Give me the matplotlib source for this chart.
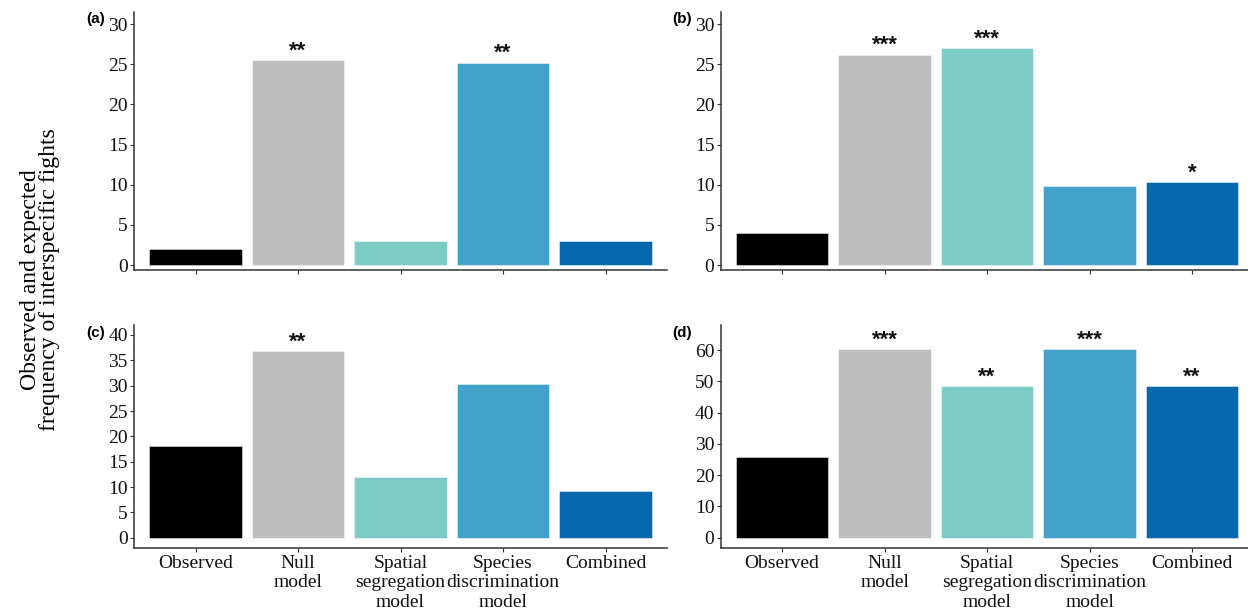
import matplotlib
matplotlib.use("Agg")
import matplotlib.pyplot as plt

# Bar categories (x-axis labels) and fill colours
categories = ["Observed", "Null\nmodel", "Spatial\nsegregation\nmodel",
              "Species\ndiscrimination\nmodel", "Combined"]
colors = ["#000000", "#BEBEBE", "#7BCCC4", "#43A2CA", "#0868AC"]

# Observed and expected frequencies for each panel
values_a = [2.0, 25.5, 3.0, 25.2, 3.0]
values_b = [4.0, 26.2, 27.0, 9.85, 10.3]
values_c = [18.0, 36.8, 12.0, 30.3, 9.2]
values_d = [25.8, 60.2, 48.5, 60.2, 48.5]

# Significance labels above the bars
stars_a = ["", "**", "", "**", ""]
stars_b = ["", "***", "***", "", "*"]
stars_c = ["", "**", "", "", ""]
stars_d = ["", "***", "**", "***", "**"]

# Y-axis ticks per panel
ticks_a = [0, 5, 10, 15, 20, 25, 30]
ticks_b = [0, 5, 10, 15, 20, 25, 30]
ticks_c = [0, 5, 10, 15, 20, 25, 30, 35, 40]
ticks_d = [0, 10, 20, 30, 40, 50, 60]

W, H = 1248, 613
fig = plt.figure(figsize=(W / 100, H / 100), dpi=100)

serif = "Liberation Serif"
sans = "Liberation Sans"
axis_col = "#333333"


def px_axes(left, right, top, bottom):
    return fig.add_axes([left / W, 1 - bottom / H, (right - left) / W, (bottom - top) / H])


panels = [
    # label, values, stars, ticks, ylim, (left, right, top, bottom), show x labels
    ("(a)", values_a, stars_a, ticks_a, (-0.62, 31.5), (134, 667, 12, 270), False),
    ("(b)", values_b, stars_b, ticks_b, (-0.62, 31.5), (720.6, 1253.6, 12, 270), False),
    ("(c)", values_c, stars_c, ticks_c, (-2.03, 41.97), (134, 667, 325, 548), True),
    ("(d)", values_d, stars_d, ticks_d, (-3.3, 68.0), (720.6, 1253.6, 325, 548), True),
]

x = list(range(1, len(categories) + 1))

for label, vals, stars, ticks, ylim, box, show_x in panels:
    ax = px_axes(*box)
    ax.bar(x, vals, width=0.9, color=colors, edgecolor=(1, 1, 1, 0.45), linewidth=0.7)
    for xi, v, s in zip(x, vals, stars):
        if s:
            ax.annotate(s, xy=(xi, v), xytext=(0, -1.0), textcoords="offset points",
                        ha="center", va="bottom", fontsize=16, family=sans,
                        fontweight="bold", color="#111111")
    ax.set_xlim(0.4, 5.6)
    ax.set_ylim(*ylim)
    ax.set_yticks(ticks)
    ax.set_yticklabels([str(t) for t in ticks], family=serif, fontsize=14)
    ax.set_xticks(x)
    if show_x:
        ax.set_xticklabels(categories, family=serif, fontsize=14, linespacing=1.18)
    else:
        ax.set_xticklabels([])
    for side in ("top", "right"):
        ax.spines[side].set_visible(False)
    for side in ("left", "bottom"):
        ax.spines[side].set_color(axis_col)
        ax.spines[side].set_linewidth(1.1)
    ax.tick_params(axis="both", length=3, width=0.8, color=axis_col, pad=1.5,
                   labelcolor="#111111")
    ax.tick_params(axis="x", pad=2)
    left, right, top, bottom = box
    fig.text((left - 29) / W, 1 - (top + 7.5) / H, label, family=sans, fontweight="bold",
             fontsize=11, ha="right", va="center")

fig.text(40 / W, 1 - 280 / H, "Observed and expected\nfrequency of interspecific fights",
         rotation=90, ha="center", va="center", family=serif, fontsize=17,
         linespacing=0.88)

fig.savefig("out.png", dpi=100)
